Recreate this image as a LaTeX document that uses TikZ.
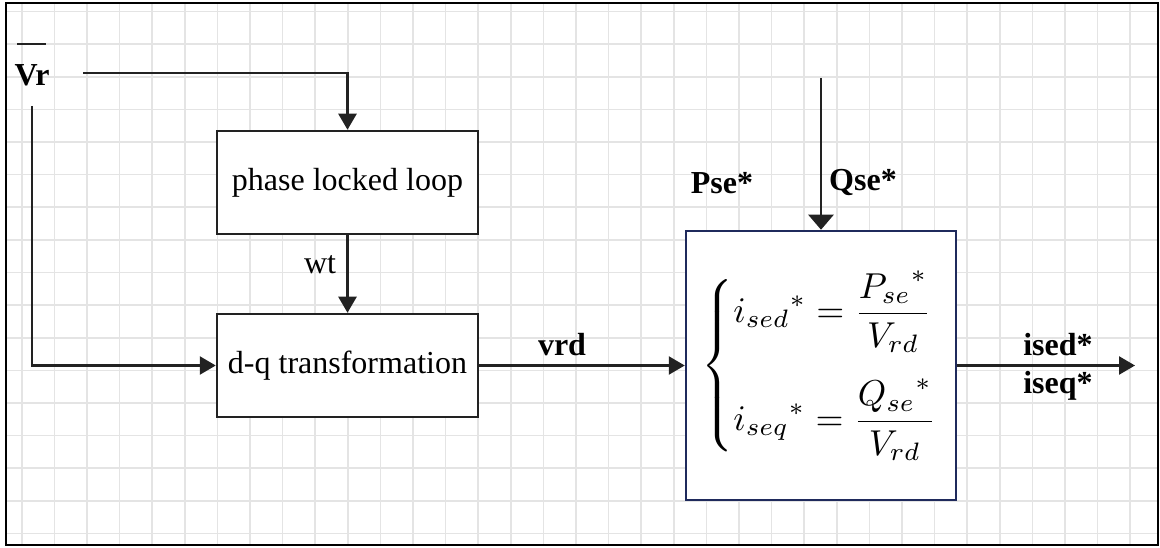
\documentclass[tikz,border=0pt]{standalone}
\usepackage{amsmath}
\usepackage{graphicx}
\usepackage{fontspec}
\setmainfont{Liberation Serif}
\usepackage{xcolor}
\usepackage{tikz}
\usetikzlibrary{positioning, arrows.meta}

\definecolor{gridgray}{HTML}{E4E4E4}
\definecolor{navyline}{HTML}{1F2A5C}
\definecolor{inkline}{HTML}{222222}

\begin{document}
\begin{tikzpicture}[
    x=1pt, y=-1pt,
    gridline/.style={draw=gridgray, line width=1.6pt},
    block/.style={rectangle, draw=inkline, line width=2.5pt, minimum width=261pt, minimum height=103pt, inner sep=0pt, font=\fontsize{32}{38}\selectfont},
    eqbox/.style={rectangle, draw=navyline, line width=2.5pt, minimum width=270pt, minimum height=269pt, inner sep=0pt, fill=white},
    lab/.style={font=\fontsize{32}{38}\selectfont\bfseries, inner sep=0pt},
    edge/.style={-{Triangle[length=16pt, width=18pt]}, draw=inkline, line width=2.5pt}
]
\useasboundingbox (0,0) rectangle (1160,548);

% Сетка фона
\foreach \i in {0,...,34} {
    \draw[gridline] ({21.7+32.6*\i},3) -- ({21.7+32.6*\i},545);
}
\foreach \j in {0,...,16} {
    \draw[gridline] (6,{11.7+32.6*\j}) -- (1158,{11.7+32.6*\j});
}
\draw[black, line width=2pt] (6,3) rectangle (1158,545);

% Вход Vr
\node[lab] (Vr) at (32,75) {Vr};
\draw[inkline, line width=1.5pt] (17,44) -- (46,44);
\coordinate (vrA) at (83,73);
\coordinate (vrB) at (32,106);

% Блоки
\node[block, fill=white] (pll) at (347.5,182.5) {phase locked loop};
\node[block, fill=white] (dq) at (347.5,365.5) {d-q transformation};
\node[eqbox] (calc) at (821,365.5) {\scalebox{3.6}{$\left\{\begin{array}{@{}l@{}}
    \displaystyle {i_{sed}}^{*} = \frac{{P_{se}}^{*}}{V_{rd}} \\[12pt]
    \displaystyle {i_{seq}}^{*} = \frac{{Q_{se}}^{*}}{V_{rd}}
  \end{array}\right.$}};

% Подписи
\node[lab, font=\fontsize{32}{38}\selectfont] (wt) at (320,265) {wt};
\node[lab] (vrd) at (562,345) {vrd};
\node[lab] (Pse) at (722,183) {Pse*};
\node[lab] (Qse) at (863,183) {Qse*};
\node[lab] (ised) at (1058,345) {ised*};
\node[lab] (iseq) at (1058,386) {iseq*};
\coordinate (qin) at (821,78);
\coordinate (out) at (1135,365.5);

% Стрелки
\draw[edge] (vrA) -| (pll.north);
\draw[edge] (vrB) |- (dq.west);
\draw[edge] (pll) -- (dq);
\draw[edge] (dq) -- (calc);
\draw[edge, -{Triangle[length=15pt, width=25pt]}] (qin) -- (calc.north);
\draw[edge] (calc.east) -- (out);

\end{tikzpicture}
\end{document}
